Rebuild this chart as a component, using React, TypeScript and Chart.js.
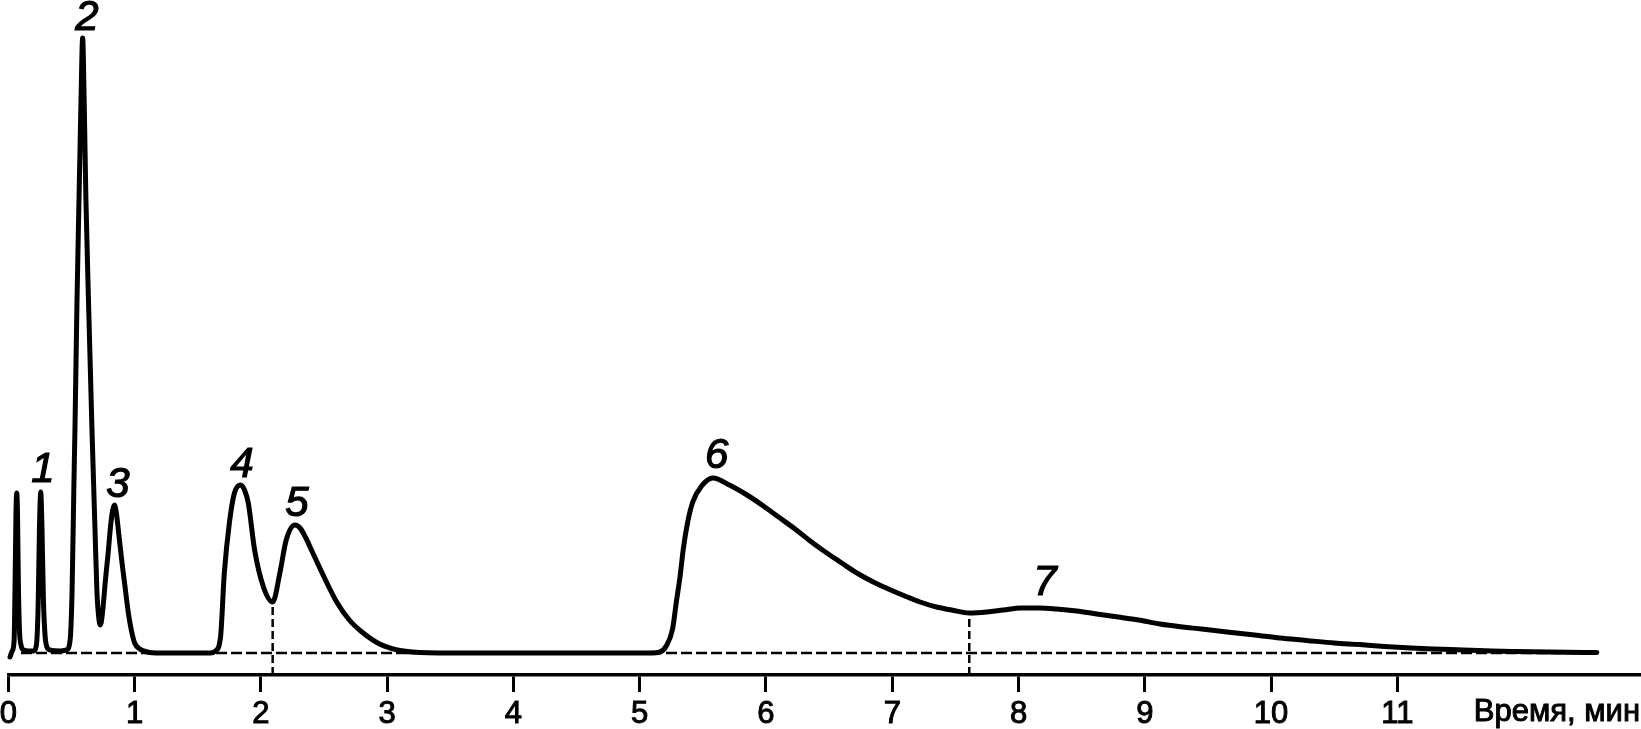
import React, { useEffect, useRef } from "react";
import { Chart, registerables } from "chart.js";

Chart.register(...registerables);

// Chromatogram trace: retention time (min) and detector signal (arbitrary units)
const curveTime = [
  0.013, 0.03, 0.045, 0.053, 0.06, 0.066, 0.072, 0.079, 0.088, 0.1, 0.12, 0.16,
  0.2, 0.222, 0.236, 0.246, 0.256, 0.266, 0.277, 0.29, 0.305, 0.33, 0.41,
  0.46, 0.488, 0.504, 0.519, 0.527, 0.543, 0.559, 0.567, 0.575, 0.588, 0.6, 0.607,
  0.614, 0.638, 0.662, 0.686, 0.701, 0.715, 0.729,
  0.745, 0.77, 0.79, 0.81, 0.826, 0.84, 0.855, 0.875, 0.9, 0.92, 0.95, 0.975, 1.0,
  1.04, 1.1, 1.2, 1.6,
  1.64, 1.68, 1.71, 1.75, 1.79, 1.84, 1.87, 1.9, 1.95, 2.02, 2.093,
  2.15, 2.2, 2.27, 2.31, 2.36, 2.4, 2.5, 2.6, 2.7, 2.8, 2.94, 3.08, 3.2, 3.5, 5.08,
  5.16, 5.21, 5.26, 5.29, 5.32, 5.345, 5.38, 5.42, 5.49, 5.58, 5.71, 5.85, 5.98,
  6.1, 6.23, 6.35, 6.47, 6.6, 6.72, 6.85, 6.97, 7.1, 7.22, 7.35, 7.47, 7.61,
  7.75, 7.88, 8.02, 8.17, 8.3, 8.46, 8.62, 8.79, 8.95, 9.12, 9.3, 9.45, 9.65,
  9.87, 10.07, 10.28, 10.5, 10.7, 10.9, 11.11, 11.3, 11.52, 11.75, 11.94, 12.2, 12.58,
];
const curveSignal = [
  -4, 2, 12, 70, 140, 160, 140, 70, 22, 8, 3, 2,
  2, 8, 50, 125, 161, 125, 55, 18, 6, 3, 2,
  3, 12, 60, 170, 223, 350, 453, 503, 553, 615, 553, 503,
  453, 335, 223, 123, 62, 36, 28,
  40, 75, 100, 128, 143, 148, 140, 118, 90, 70, 40, 22, 10,
  4, 1, 0, 0,
  2, 16, 80, 130, 160, 168, 163, 150, 103, 66, 51,
  80, 113, 128, 125, 114, 103, 76, 51, 33, 21, 9, 3, 1, 0, 0,
  1, 7, 24, 51, 77, 104, 131, 151, 167, 175, 168, 158, 147,
  136, 124, 112, 101, 90, 80, 71, 64, 57, 51, 46, 43, 40,
  41, 43, 45, 45, 44, 42, 39, 36, 33, 29, 26, 24, 21,
  18, 15, 12.6, 10, 8.4, 6.5, 5, 4, 3, 2, 1.5, 1, 0.5,
];

// Dashed zero line under the trace
const baselineTime = [0.1, 12.58];
const baselineSignal = [0, 0];

// Dashed drop lines separating overlapping peaks
const dropTime = [2.093, 7.61];
const dropSignal = [51, 40];

// Peak numbers
const peakNames = ["1", "2", "3", "4", "5", "6", "7"];
const peakLabelTime = [0.274, 0.622, 0.868, 1.85, 2.285, 5.61, 8.21];
const peakLabelSignal = [186, 638, 171, 191, 152, 200, 73];

// Axis
const xTickValues = [0, 1, 2, 3, 4, 5, 6, 7, 8, 9, 10, 11];
const xTickLabels = ["0", "1", "2", "3", "4", "5", "6", "7", "8", "9", "10", "11"];
const axisTitle = "Время, мин";
const xMin = 0;
const xMax = 12.93;
const yMin = -22;
const yMax = 653;

const FONT = "Arial, 'Liberation Sans', sans-serif";

const overlayPlugin = {
  id: "overlay",
  afterDraw(chart: any) {
    const { ctx } = chart;
    const xs = chart.scales.x;
    const ys = chart.scales.y;
    ctx.save();
    ctx.fillStyle = "#000";
    ctx.strokeStyle = "#000";
    const fs = 42;
    ctx.font = `italic ${fs}px ${FONT}`;
    ctx.textAlign = "center";
    ctx.textBaseline = "alphabetic";
    ctx.lineWidth = 1.2;
    peakNames.forEach((n, i) => {
      const px = xs.getPixelForValue(peakLabelTime[i]);
      const py = ys.getPixelForValue(peakLabelSignal[i]) + 0.358 * fs;
      ctx.fillText(n, px, py);
      ctx.strokeText(n, px, py);
    });
    ctx.font = `31px ${FONT}`;
    ctx.textAlign = "right";
    ctx.lineWidth = 1;
    ctx.fillText(axisTitle, chart.width - 1, xs.bottom - 8);
    ctx.strokeText(axisTitle, chart.width - 1, xs.bottom - 8);
    ctx.restore();
  },
};

export default function App() {
  const ref = useRef<HTMLCanvasElement | null>(null);

  useEffect(() => {
    if (!ref.current) return;
    const curve = curveTime.map((t, i) => ({ x: t, y: curveSignal[i] }));
    const base = baselineTime.map((t, i) => ({ x: t, y: baselineSignal[i] }));
    const drops = dropTime.map((t, i) => ({
      label: "drop" + i,
      data: [
        { x: t, y: yMin },
        { x: t, y: dropSignal[i] },
      ],
      borderColor: "#000",
      borderWidth: 2.5,
      borderDash: [8, 4],
      pointRadius: 0,
      fill: false,
      order: 3,
    }));

    const chart = new Chart(ref.current, {
      type: "line",
      data: {
        datasets: [
          {
            label: "signal",
            data: curve,
            borderColor: "#000",
            borderWidth: 5,
            pointRadius: 0,
            cubicInterpolationMode: "monotone",
            borderCapStyle: "round",
            borderJoinStyle: "round",
            fill: false,
            order: 1,
          },
          {
            label: "baseline",
            data: base,
            borderColor: "#000",
            borderWidth: 2.5,
            borderDash: [11, 4],
            pointRadius: 0,
            fill: false,
            order: 2,
          },
          ...drops,
        ] as any,
      },
      options: {
        animation: false,
        responsive: false,
        maintainAspectRatio: false,
        clip: false as any,
        layout: { padding: { left: 8.4, right: 0, top: 0, bottom: 0 } },
        plugins: {
          legend: { display: false },
          tooltip: { enabled: false },
          title: { display: false },
        },
        scales: {
          x: {
            type: "linear",
            min: xMin,
            max: xMax,
            afterBuildTicks: (scale: any) => {
              scale.ticks = xTickValues.map((v) => ({ value: v }));
            },
            afterFit: (scale: any) => {
              scale.height = 54;
              scale.paddingLeft = 0;
              scale.paddingRight = 0;
            },
            grid: {
              display: true,
              drawOnChartArea: false,
              drawTicks: true,
              tickLength: 17,
              lineWidth: 3,
              color: "#000",
            },
            border: { display: true, width: 3.5, color: "#000" },
            ticks: {
              color: "#000",
              font: { family: FONT, size: 31 },
              padding: 4,
              maxRotation: 0,
              autoSkip: false,
              textStrokeWidth: 1,
              textStrokeColor: "#000",
              callback: (v: any) => {
                const i = xTickValues.indexOf(Number(v));
                return i >= 0 ? xTickLabels[i] : "";
              },
            } as any,
          },
          y: {
            type: "linear",
            min: yMin,
            max: yMax,
            display: false,
          },
        },
      },
      plugins: [overlayPlugin],
    });
    return () => chart.destroy();
  }, []);

  return (
    <div style={{ position: "fixed", left: 0, top: 0, width: 1641, height: 729, background: "#fff" }}>
      <canvas ref={ref} width={1641} height={729} style={{ display: "block" }} />
    </div>
  );
}
